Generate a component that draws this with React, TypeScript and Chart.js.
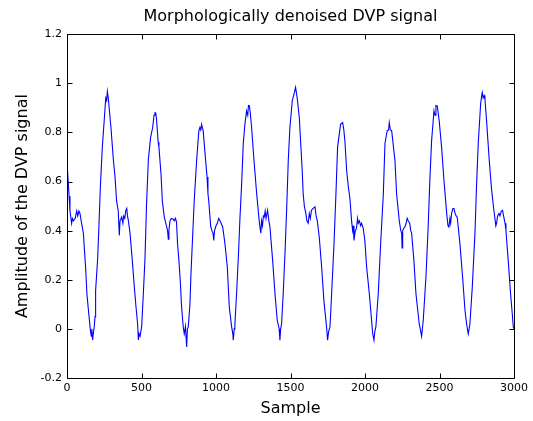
import React, { useEffect, useRef } from "react";
import { Chart, registerables } from "chart.js";

Chart.register(...registerables);

const TITLE = "Morphologically denoised DVP signal";
const X_LABEL = "Sample";
const Y_LABEL = "Amplitude of the DVP signal";
const X_TICKS = [0, 500, 1000, 1500, 2000, 2500, 3000];
const Y_TICKS = [-0.2, 0, 0.2, 0.4, 0.6, 0.8, 1, 1.2];

const sampleIdx = [
  0, 8, 14, 20, 31, 36, 43, 55, 65, 72, 80, 87, 98, 110, 116, 125, 134, 148, 157, 163, 166, 172, 178, 183, 188, 192,
  206, 215, 224, 237, 251, 260, 266, 271, 277, 295, 311, 322, 333, 344, 351, 356, 367, 375, 380, 388, 394, 401, 406,
  412, 423, 438, 452, 463, 474, 479, 484, 490, 501, 512, 523, 534, 546, 561, 575, 584, 590, 595, 600, 606, 612, 617,
  631, 640, 653, 669, 675, 680, 684, 691, 700, 713, 720, 728, 735, 742, 751, 760, 769, 780, 787, 795, 803, 808, 814,
  825, 832, 843, 854, 870, 885, 892, 898, 903, 914, 925, 940, 946, 951, 964, 972, 980, 985, 990, 1000, 1009, 1018,
  1027, 1045, 1060, 1076, 1089, 1105, 1113, 1116, 1122, 1127, 1138, 1150, 1161, 1172, 1183, 1194, 1205, 1213, 1218,
  1224, 1230, 1239, 1255, 1273, 1290, 1296, 1301, 1306, 1312, 1318, 1324, 1330, 1336, 1346, 1355, 1362, 1380, 1396,
  1411, 1424, 1429, 1434, 1440, 1451, 1463, 1474, 1485, 1496, 1512, 1525, 1534, 1545, 1559, 1570, 1579, 1585, 1593,
  1603, 1610, 1619, 1626, 1633, 1641, 1650, 1664, 1672, 1680, 1693, 1709, 1724, 1742, 1749, 1756, 1765, 1776, 1792,
  1805, 1816, 1836, 1850, 1858, 1865, 1877, 1888, 1899, 1910, 1917, 1922, 1926, 1935, 1943, 1950, 1955, 1963, 1970,
  1977, 1988, 1999, 2011, 2029, 2044, 2052, 2060, 2066, 2073, 2089, 2105, 2123, 2134, 2149, 2158, 2163, 2170, 2179,
  2201, 2212, 2230, 2240, 2246, 2249, 2253, 2260, 2268, 2276, 2283, 2290, 2300, 2307, 2313, 2328, 2342, 2364, 2374,
  2380, 2391, 2409, 2424, 2436, 2447, 2463, 2470, 2476, 2485, 2498, 2514, 2530, 2543, 2550, 2557, 2563, 2570, 2575,
  2581, 2590, 2597, 2605, 2612, 2619, 2637, 2655, 2671, 2682, 2693, 2704, 2720, 2738, 2749, 2760, 2776, 2783, 2787,
  2793, 2800, 2805, 2816, 2834, 2850, 2865, 2872, 2878, 2883, 2890, 2899, 2906, 2915, 2923, 2930, 2940, 2946, 2961,
  2977, 2990, 2995, 3000,
];

const amplitude = [
  0.68, 0.6, 0.54, 0.48, 0.43, 0.45, 0.44, 0.45, 0.48, 0.46, 0.48, 0.47, 0.43, 0.39, 0.33, 0.25, 0.14, 0.05, -0.005,
  -0.03, 0.0, -0.045, -0.01, 0.008, 0.05, 0.155, 0.29, 0.43, 0.58, 0.74, 0.86, 0.94, 0.93, 0.967, 0.94, 0.82, 0.69,
  0.62, 0.52, 0.48, 0.38, 0.44, 0.455, 0.43, 0.46, 0.45, 0.48, 0.49, 0.46, 0.44, 0.39, 0.28, 0.17, 0.09, 0.02, -0.045,
  -0.02, -0.03, 0.008, 0.14, 0.28, 0.51, 0.69, 0.78, 0.82, 0.87, 0.88, 0.88, 0.86, 0.81, 0.76, 0.74, 0.63, 0.52,
  0.455, 0.415, 0.4, 0.365, 0.4, 0.44, 0.45, 0.447, 0.44, 0.45, 0.435, 0.347, 0.28, 0.198, 0.09, 0.008, -0.02, 0.01,
  -0.074, 0.0, 0.008, 0.1, 0.225, 0.374, 0.524, 0.686, 0.807, 0.82, 0.81, 0.833, 0.807, 0.725, 0.618, 0.55, 0.524,
  0.42, 0.4, 0.39, 0.36, 0.4, 0.42, 0.43, 0.45, 0.44, 0.415, 0.347, 0.252, 0.09, 0.008, -0.02, -0.046, 0.0, 0.02,
  0.143, 0.293, 0.455, 0.59, 0.755, 0.833, 0.888, 0.87, 0.91, 0.909, 0.88, 0.82, 0.686, 0.55, 0.44, 0.41, 0.39, 0.44,
  0.42, 0.46, 0.455, 0.48, 0.45, 0.483, 0.44, 0.415, 0.28, 0.143, 0.035, 0.0, -0.046, 0.0, 0.02, 0.143, 0.307, 0.483,
  0.686, 0.82, 0.93, 0.96, 0.984, 0.94, 0.861, 0.74, 0.64, 0.55, 0.5, 0.47, 0.44, 0.43, 0.47, 0.45, 0.483, 0.49,
  0.497, 0.46, 0.44, 0.374, 0.252, 0.116, 0.008, -0.046, -0.01, 0.008, 0.143, 0.347, 0.55, 0.74, 0.833, 0.84, 0.81,
  0.766, 0.644, 0.58, 0.53, 0.44, 0.4, 0.42, 0.36, 0.4, 0.41, 0.45, 0.43, 0.44, 0.42, 0.43, 0.41, 0.36, 0.252, 0.143,
  0.035, -0.02, -0.046, -0.01, 0.008, 0.143, 0.347, 0.55, 0.755, 0.807, 0.81, 0.84, 0.81, 0.807, 0.686, 0.55, 0.44,
  0.4, 0.39, 0.33, 0.4, 0.41, 0.415, 0.43, 0.45, 0.44, 0.43, 0.4, 0.39, 0.28, 0.143, 0.02, -0.01, -0.03, 0.035,
  0.211, 0.415, 0.618, 0.766, 0.888, 0.87, 0.91, 0.908, 0.847, 0.74, 0.604, 0.51, 0.46, 0.42, 0.415, 0.45, 0.43,
  0.47, 0.49, 0.49, 0.47, 0.46, 0.455, 0.347, 0.211, 0.076, 0.02, -0.02, 0.02, 0.17, 0.39, 0.59, 0.755, 0.916, 0.95,
  0.963, 0.94, 0.95, 0.936, 0.847, 0.686, 0.564, 0.483, 0.45, 0.42, 0.43, 0.46, 0.47, 0.46, 0.48, 0.483, 0.46, 0.43,
  0.4, 0.28, 0.143, 0.05, 0.008, 0.0,
];

const FONT = "'DejaVu Sans', 'Liberation Sans', Arial, sans-serif";

const boxPlugin = {
  id: "matlabBox",
  afterDraw(chart: any) {
    const { ctx, chartArea } = chart;
    const xs = chart.scales.x;
    const ys = chart.scales.y;
    const L = Math.round(chartArea.left) + 0.5;
    const R = Math.round(chartArea.right) + 0.5;
    const T = Math.round(chartArea.top) + 0.5;
    const B = Math.round(chartArea.bottom) + 0.5;
    const len = 5;
    ctx.save();
    ctx.strokeStyle = "#000";
    ctx.lineWidth = 1;
    ctx.beginPath();
    ctx.rect(L, T, R - L, B - T);
    for (const v of X_TICKS) {
      const px = Math.round(xs.getPixelForValue(v)) + 0.5;
      ctx.moveTo(px, B);
      ctx.lineTo(px, B - len);
      ctx.moveTo(px, T);
      ctx.lineTo(px, T + len);
    }
    for (const v of Y_TICKS) {
      const py = Math.round(ys.getPixelForValue(v)) + 0.5;
      ctx.moveTo(L, py);
      ctx.lineTo(L + len, py);
      ctx.moveTo(R, py);
      ctx.lineTo(R - len, py);
    }
    ctx.stroke();
    ctx.restore();
  },
};

export default function App() {
  const ref = useRef<HTMLCanvasElement | null>(null);

  useEffect(() => {
    const canvas = ref.current;
    if (!canvas) return;
    const points = sampleIdx.map((x, i) => ({ x, y: amplitude[i] }));
    const chart = new Chart(canvas, {
      type: "line",
      data: {
        datasets: [
          {
            data: points,
            borderColor: "#0000ff",
            borderWidth: 1.1,
            pointRadius: 0,
            tension: 0,
            fill: false,
          },
        ],
      },
      options: {
        animation: false,
        responsive: false,
        devicePixelRatio: 1,
        layout: { padding: { left: 0, right: 19, top: 0, bottom: 0 } },
        plugins: {
          legend: { display: false },
          tooltip: { enabled: false },
          title: {
            display: true,
            text: TITLE,
            fullSize: false,
            color: "#000",
            font: { family: FONT, size: 16, weight: "normal" },
            padding: { top: 7, bottom: 8 },
          },
        },
        scales: {
          x: {
            type: "linear",
            min: 0,
            max: 3000,
            afterBuildTicks: (scale: any) => {
              scale.ticks = X_TICKS.map((v) => ({ value: v }));
            },
            afterFit: (scale: any) => {
              scale.height = 43;
            },
            grid: { display: false, drawTicks: false },
            border: { display: false },
            ticks: {
              color: "#000",
              font: { family: FONT, size: 11 },
              padding: 4,
              maxRotation: 0,
              autoSkip: false,
              callback: (v: any) => String(v),
            },
            title: {
              display: true,
              text: X_LABEL,
              color: "#000",
              font: { family: FONT, size: 16 },
              padding: { top: 0, bottom: 3 },
            },
          },
          y: {
            type: "linear",
            min: -0.2,
            max: 1.2,
            afterBuildTicks: (scale: any) => {
              scale.ticks = Y_TICKS.map((v) => ({ value: v }));
            },
            afterFit: (scale: any) => {
              scale.width = 67;
            },
            grid: { display: false, drawTicks: false },
            border: { display: false },
            ticks: {
              color: "#000",
              font: { family: FONT, size: 11 },
              padding: 5,
              autoSkip: false,
              callback: (v: any) => String(Math.round(Number(v) * 10) / 10),
            },
            title: {
              display: true,
              text: Y_LABEL,
              color: "#000",
              font: { family: FONT, size: 16 },
              padding: { top: 13, bottom: 0 },
            },
          },
        },
      },
      plugins: [boxPlugin],
    } as any);
    return () => chart.destroy();
  }, []);

  return (
    <div style={{ position: "absolute", left: 0, top: 0, width: 533, height: 421, background: "#fff" }}>
      <canvas ref={ref} width={533} height={421} style={{ display: "block", width: 533, height: 421 }} />
    </div>
  );
}
